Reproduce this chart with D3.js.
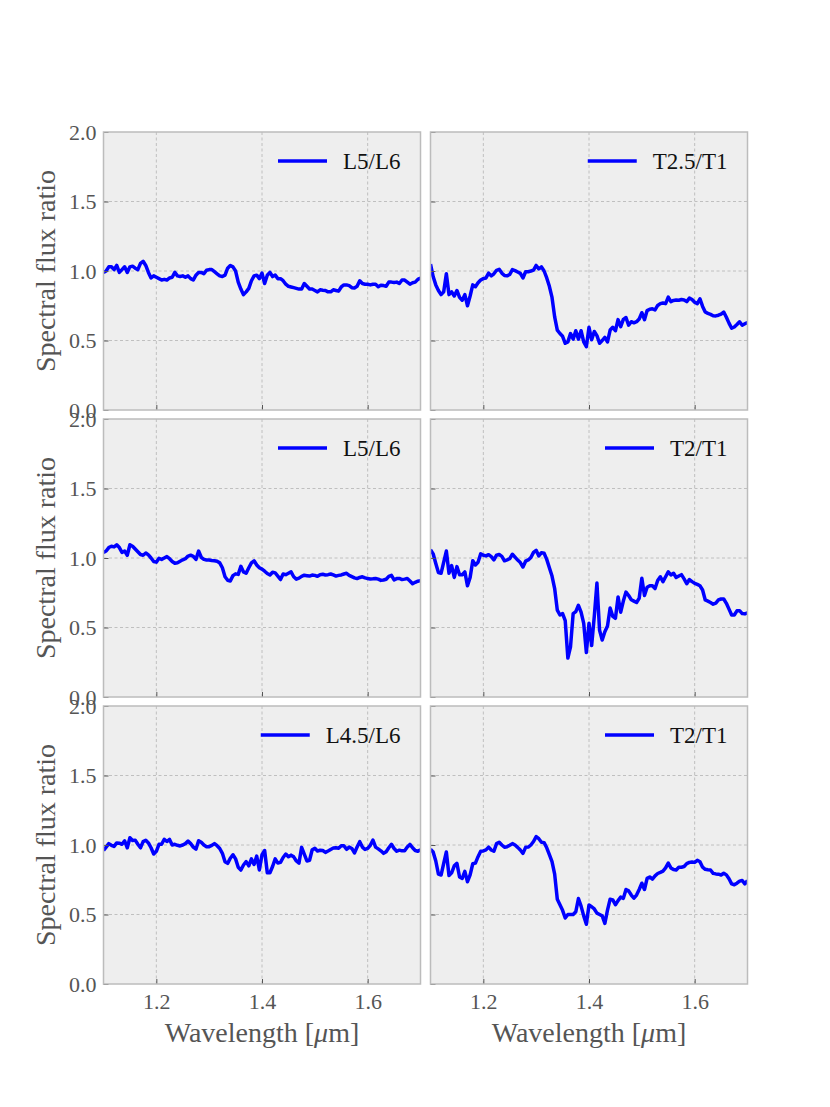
<!DOCTYPE html>
<html><head><meta charset="utf-8">
<script src="https://cdn.jsdelivr.net/npm/d3@7"></script>
<style>body{margin:0;background:#fff}svg{display:block}</style>
</head><body>
<script>
const wavelength = [1.100,1.105,1.110,1.115,1.120,1.125,1.130,1.135,1.140,1.145,1.150,1.155,1.160,1.165,1.170,1.175,1.180,1.185,1.190,1.195,1.200,1.205,1.210,1.215,1.220,1.225,1.230,1.235,1.240,1.245,1.250,1.255,1.260,1.265,1.270,1.275,1.280,1.285,1.290,1.295,1.300,1.305,1.310,1.315,1.320,1.325,1.330,1.335,1.340,1.345,1.350,1.355,1.360,1.365,1.370,1.375,1.380,1.385,1.390,1.395,1.400,1.405,1.410,1.415,1.420,1.425,1.430,1.435,1.440,1.445,1.450,1.455,1.460,1.465,1.470,1.475,1.480,1.485,1.490,1.495,1.500,1.505,1.510,1.515,1.520,1.525,1.530,1.535,1.540,1.545,1.550,1.555,1.560,1.565,1.570,1.575,1.580,1.585,1.590,1.595,1.600,1.605,1.610,1.615,1.620,1.625,1.630,1.635,1.640,1.645,1.650,1.655,1.660,1.665,1.670,1.675,1.680,1.685,1.690,1.695,1.700];

const ratioL5L6a = [0.99,1.00,1.03,1.03,1.01,1.04,0.99,1.01,1.03,0.99,1.03,1.035,1.02,1.01,1.055,1.07,1.04,0.99,0.95,0.965,0.955,0.945,0.935,0.94,0.935,0.95,0.955,0.99,0.965,0.96,0.965,0.955,0.965,0.945,0.935,0.97,0.99,0.99,0.98,1.005,1.01,1.01,0.995,0.98,0.965,0.96,0.97,1.02,1.04,1.03,1.00,0.92,0.87,0.83,0.85,0.875,0.93,0.965,0.97,0.945,0.985,0.91,0.97,0.99,0.96,0.97,0.945,0.945,0.93,0.905,0.89,0.885,0.88,0.875,0.87,0.87,0.91,0.89,0.87,0.87,0.86,0.85,0.865,0.862,0.86,0.85,0.85,0.865,0.86,0.855,0.885,0.9,0.9,0.895,0.88,0.878,0.89,0.93,0.91,0.905,0.905,0.9,0.905,0.905,0.887,0.898,0.895,0.89,0.92,0.92,0.917,0.92,0.91,0.935,0.935,0.92,0.905,0.915,0.92,0.94,0.95];

const ratioT25T1 = [1.05,0.96,0.9,0.86,0.83,0.85,0.98,0.83,0.85,0.82,0.86,0.81,0.79,0.83,0.75,0.82,0.9,0.887,0.915,0.935,0.945,0.95,0.985,0.965,0.98,1.005,1.012,0.985,0.968,0.965,0.975,1.01,1.003,0.993,0.983,0.95,0.995,0.995,1.0,1.007,1.04,1.015,1.03,1.0,0.95,0.89,0.81,0.67,0.575,0.55,0.53,0.48,0.49,0.55,0.51,0.57,0.51,0.57,0.49,0.455,0.595,0.505,0.565,0.535,0.48,0.5,0.523,0.49,0.575,0.595,0.57,0.65,0.6,0.652,0.665,0.61,0.635,0.627,0.635,0.655,0.7,0.65,0.715,0.725,0.728,0.72,0.752,0.765,0.77,0.765,0.812,0.78,0.788,0.791,0.79,0.795,0.792,0.78,0.805,0.795,0.775,0.765,0.8,0.745,0.705,0.695,0.688,0.678,0.677,0.682,0.69,0.705,0.667,0.625,0.588,0.597,0.615,0.635,0.61,0.62,0.63];

const ratioL5L6b = [1.04,1.05,1.075,1.085,1.08,1.095,1.075,1.04,1.05,1.02,1.095,1.085,1.065,1.045,1.025,1.02,1.036,1.022,1.0,0.975,0.97,0.998,0.99,1.0,1.01,0.995,0.975,0.962,0.966,0.977,0.987,0.995,1.014,1.02,1.012,0.99,1.05,1.005,0.99,0.986,0.986,0.982,0.98,0.976,0.965,0.93,0.865,0.84,0.835,0.873,0.886,0.882,0.94,0.9,0.89,0.93,0.965,0.98,0.95,0.93,0.92,0.905,0.888,0.878,0.898,0.893,0.87,0.845,0.885,0.88,0.89,0.9,0.865,0.848,0.855,0.868,0.876,0.873,0.87,0.877,0.875,0.868,0.88,0.883,0.878,0.88,0.885,0.878,0.87,0.875,0.878,0.885,0.89,0.875,0.866,0.857,0.852,0.86,0.865,0.857,0.853,0.849,0.85,0.853,0.848,0.839,0.842,0.847,0.868,0.875,0.843,0.852,0.853,0.845,0.848,0.853,0.835,0.815,0.825,0.833,0.837];

const ratioT2T1a = [1.06,1.03,0.96,0.895,0.89,0.97,1.05,0.89,0.945,0.86,0.938,0.88,0.88,0.9,0.8,0.86,0.98,0.95,0.97,1.03,1.02,1.015,1.024,1.01,0.986,1.02,1.025,1.012,0.98,0.987,0.995,1.027,1.006,0.985,0.967,0.935,0.977,0.986,1.004,1.04,1.055,1.015,1.038,1.034,0.99,0.93,0.87,0.78,0.625,0.59,0.6,0.55,0.28,0.36,0.6,0.614,0.66,0.61,0.53,0.32,0.53,0.37,0.58,0.82,0.48,0.41,0.47,0.51,0.64,0.58,0.566,0.72,0.61,0.69,0.755,0.73,0.70,0.69,0.68,0.71,0.855,0.73,0.79,0.8,0.8,0.78,0.838,0.865,0.83,0.865,0.9,0.878,0.89,0.86,0.87,0.88,0.85,0.815,0.845,0.83,0.818,0.81,0.8,0.77,0.698,0.69,0.68,0.668,0.675,0.698,0.705,0.705,0.674,0.632,0.59,0.59,0.62,0.621,0.6,0.598,0.605];

const ratioL45L6 = [0.96,0.985,1.01,0.998,0.99,1.015,1.013,1.005,1.03,0.98,1.052,1.032,1.035,1.005,0.98,1.024,1.034,1.015,0.98,0.935,0.955,1.005,1.005,1.041,1.025,1.04,1.0,1.005,0.998,0.993,1.0,1.01,1.028,1.01,0.985,0.97,1.031,1.02,1.0,0.988,0.988,0.997,1.01,0.995,0.975,0.94,0.88,0.868,0.905,0.93,0.9,0.84,0.82,0.856,0.88,0.85,0.9,0.86,0.92,0.82,0.93,0.96,0.8,0.8,0.845,0.9,0.87,0.875,0.91,0.935,0.915,0.927,0.915,0.885,0.87,0.983,0.935,0.885,0.89,0.966,0.976,0.957,0.962,0.96,0.947,0.957,0.968,0.978,0.98,0.976,0.994,0.995,0.969,0.985,0.975,0.943,0.985,1.024,0.985,0.968,0.975,0.998,1.036,0.985,0.972,0.958,0.94,0.952,0.98,1.005,0.975,0.955,0.963,0.958,0.958,0.985,1.004,0.98,0.96,0.955,0.966];

const ratioT2T1b = [0.97,0.95,0.885,0.79,0.784,0.868,0.95,0.78,0.8,0.85,0.868,0.77,0.76,0.81,0.736,0.785,0.865,0.87,0.916,0.955,0.957,0.965,0.985,0.964,0.955,1.01,1.02,1.0,0.984,0.988,0.998,1.01,1.0,0.983,0.964,0.94,0.983,0.985,1.0,1.025,1.06,1.045,1.02,1.017,0.98,0.93,0.88,0.79,0.61,0.57,0.53,0.475,0.5,0.5,0.5,0.52,0.615,0.56,0.49,0.43,0.568,0.556,0.54,0.51,0.5,0.49,0.436,0.532,0.61,0.605,0.57,0.6,0.625,0.616,0.68,0.67,0.64,0.617,0.64,0.68,0.725,0.68,0.76,0.77,0.755,0.778,0.795,0.803,0.812,0.835,0.87,0.835,0.823,0.82,0.84,0.84,0.845,0.866,0.875,0.878,0.875,0.89,0.88,0.84,0.825,0.822,0.82,0.796,0.792,0.79,0.784,0.797,0.785,0.757,0.72,0.714,0.725,0.74,0.745,0.72,0.745];

const panelLabels = ["L5/L6","T2.5/T1","L5/L6","T2/T1","L4.5/L6","T2/T1"];
const panelSeries = [ratioL5L6a, ratioT25T1, ratioL5L6b, ratioT2T1a, ratioL45L6, ratioT2T1b];
const xTicks = [1.2, 1.4, 1.6];
const yTicks = [0.0, 0.5, 1.0, 1.5, 2.0];
const xLabel = "Wavelength [";
const yLabel = "Spectral flux ratio";

const W = 830, H = 1107;
const FONT = "'Liberation Serif','DejaVu Serif',serif";
const svg = d3.select("body").append("svg").attr("width", W).attr("height", H);

const colX = [103.5, 430.5], pw = 317;
const rowY = [132, 419, 706], ph = 278;

panelSeries.forEach((vals, k) => {
  const col = k % 2, row = Math.floor(k / 2);
  const x0 = colX[col], y0 = rowY[row];
  const x = d3.scaleLinear().domain([1.1, 1.7]).range([x0, x0 + pw]);
  const y = d3.scaleLinear().domain([0, 2]).range([y0 + ph, y0]);
  const g = svg.append("g");

  g.append("rect").attr("x", x0).attr("y", y0).attr("width", pw).attr("height", ph)
    .attr("fill", "#eeeeee");

  g.append("g").selectAll("line").data(xTicks).join("line")
    .attr("x1", d => x(d)).attr("x2", d => x(d)).attr("y1", y0).attr("y2", y0 + ph)
    .attr("stroke", "#b2b2b2").attr("stroke-width", 0.8).attr("stroke-dasharray", "3,2.5");
  g.append("g").selectAll("line").data(yTicks.filter(d => d > 0 && d < 2)).join("line")
    .attr("x1", x0).attr("x2", x0 + pw).attr("y1", d => y(d)).attr("y2", d => y(d))
    .attr("stroke", "#b2b2b2").attr("stroke-width", 0.8).attr("stroke-dasharray", "3,2.5");

  const cid = "clip" + k;
  svg.append("clipPath").attr("id", cid).append("rect")
    .attr("x", x0).attr("y", y0).attr("width", pw).attr("height", ph);

  const line = d3.line().x((d, i) => x(wavelength[i])).y(d => y(d));
  g.append("path").datum(vals).attr("d", line).attr("fill", "none")
    .attr("stroke", "#0000ff").attr("stroke-width", 3.5).attr("stroke-linejoin", "round")
    .attr("clip-path", `url(#${cid})`);

  const yAx = d3.axisLeft(y).tickValues(yTicks).tickSize(-5).tickPadding(7)
    .tickFormat(col === 0 ? d3.format(".1f") : () => "");
  const ya = g.append("g").attr("transform", `translate(${x0},0)`).call(yAx);
  ya.select(".domain").remove();
  ya.selectAll(".tick line").attr("stroke", "#555").attr("stroke-width", 1);
  ya.selectAll(".tick text").attr("font-family", FONT).attr("font-size", 22).attr("fill", "#555");

  const xAx = d3.axisBottom(x).tickValues(xTicks).tickSize(-5).tickPadding(9)
    .tickFormat(row === 2 ? d3.format(".1f") : () => "");
  const xa = g.append("g").attr("transform", `translate(0,${y0 + ph})`).call(xAx);
  xa.select(".domain").remove();
  xa.selectAll(".tick line").attr("stroke", "#555").attr("stroke-width", 1);
  xa.selectAll(".tick text").attr("font-family", FONT).attr("font-size", 22).attr("fill", "#555");

  g.append("rect").attr("x", x0).attr("y", y0).attr("width", pw).attr("height", ph)
    .attr("fill", "none").attr("stroke", "#bcbcbc").attr("stroke-width", 1.5);

  const lt = g.append("text").attr("x", x0 + pw - 20).attr("y", y0 + 29)
    .attr("text-anchor", "end").attr("dominant-baseline", "central")
    .attr("font-family", FONT).attr("font-size", 23).attr("fill", "#111").text(panelLabels[k]);
  const tw = lt.node().getComputedTextLength();
  const tx = x0 + pw - 20 - tw;
  g.append("line").attr("x1", tx - 65).attr("x2", tx - 16).attr("y1", y0 + 29).attr("y2", y0 + 29)
    .attr("stroke", "#0000ff").attr("stroke-width", 3.5);

  if (col === 0) {
    svg.append("text").attr("transform", `translate(55,${y0 + ph / 2}) rotate(-90)`)
      .attr("text-anchor", "middle").attr("font-family", FONT).attr("font-size", 28)
      .attr("fill", "#555").text(yLabel);
  }
  if (row === 2) {
    const t = svg.append("text").attr("x", x0 + pw / 2).attr("y", 1042)
      .attr("text-anchor", "middle").attr("font-family", FONT).attr("font-size", 28)
      .attr("fill", "#555");
    t.append("tspan").text(xLabel);
    t.append("tspan").attr("font-style", "italic").text("\u03BC");
    t.append("tspan").text("m]");
  }
});
</script>
</body></html>
